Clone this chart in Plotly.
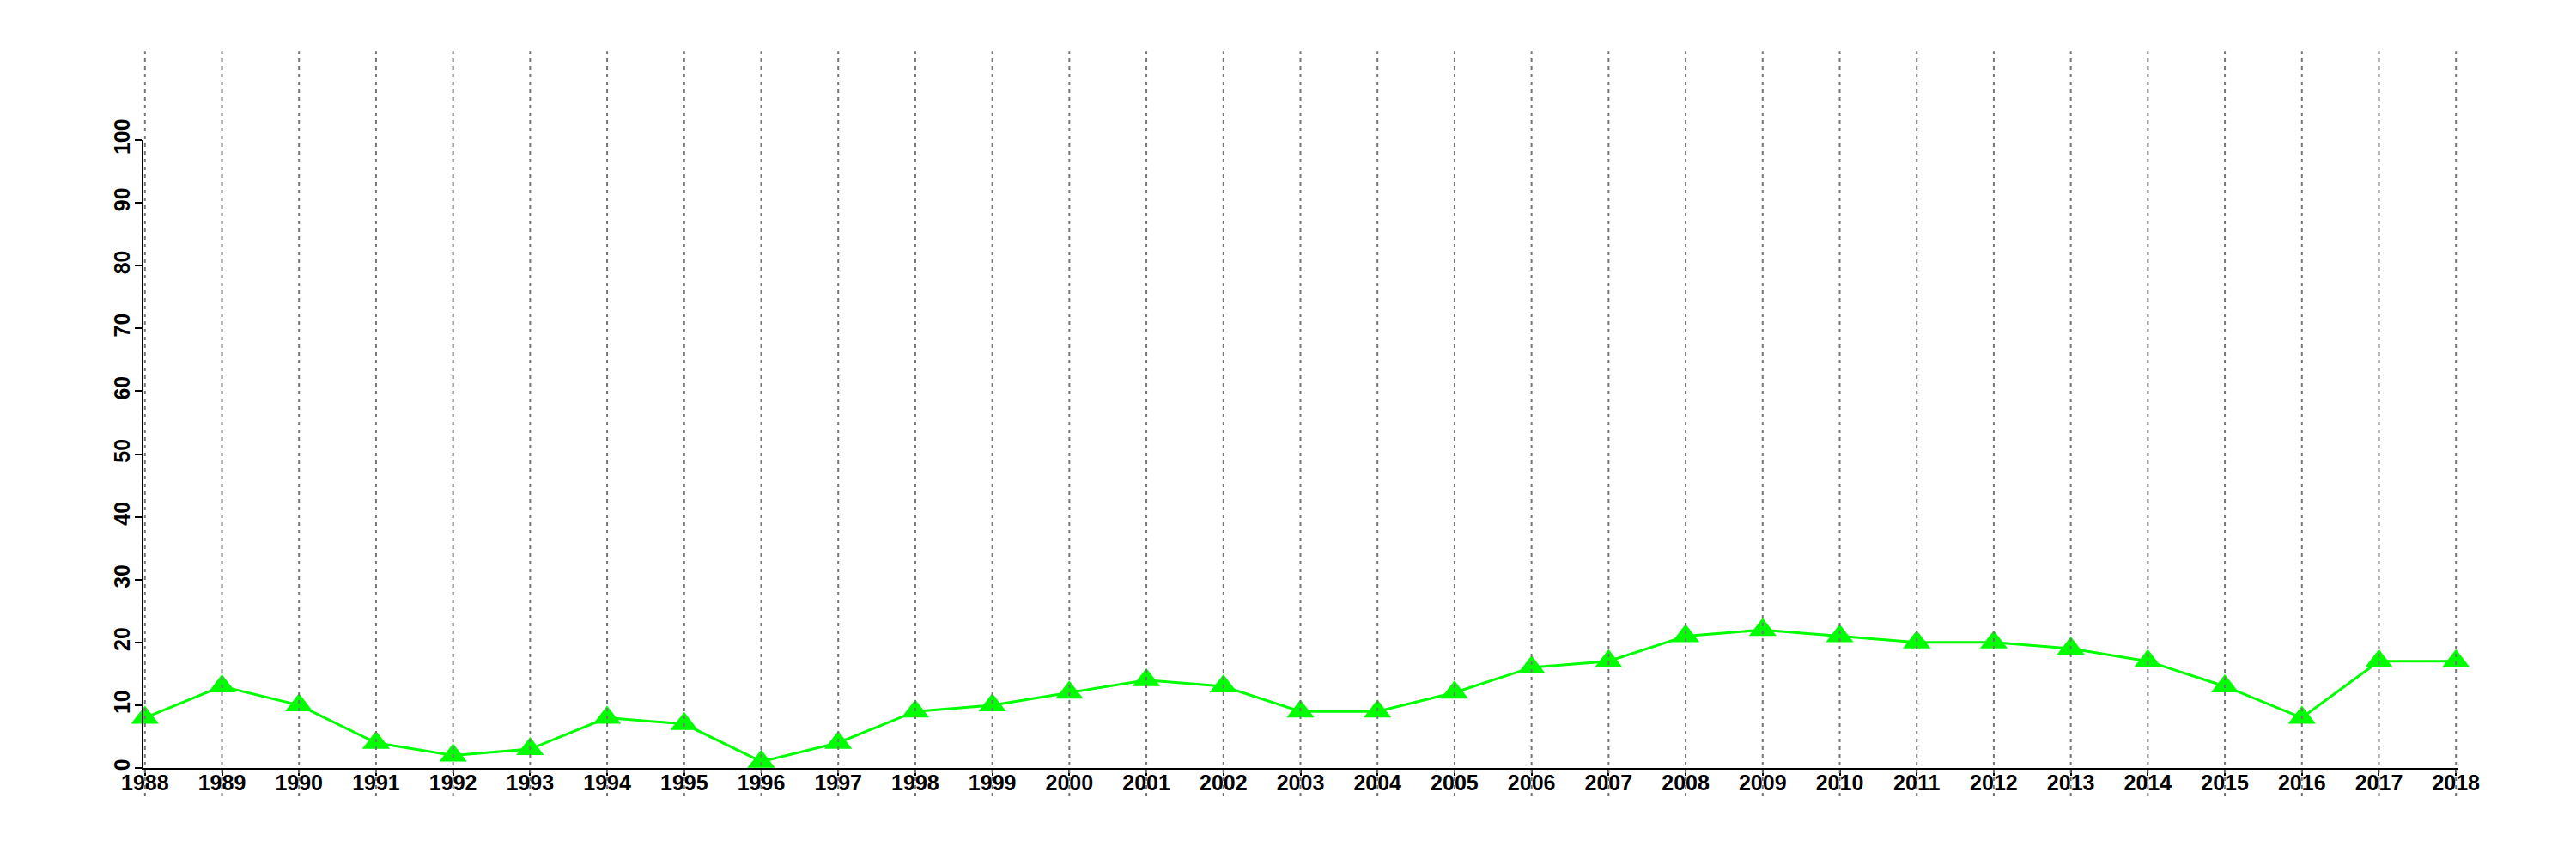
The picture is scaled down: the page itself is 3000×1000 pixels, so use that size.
import plotly.graph_objects as go

years = list(range(1988, 2019))
values = [8, 13, 10, 4, 2, 3, 8, 7, 1, 4, 9, 10, 12, 14, 13, 9, 9, 12, 16, 17,
          21, 22, 21, 20, 20, 19, 17, 13, 8, 17, 17]
y_ticks = [0, 10, 20, 30, 40, 50, 60, 70, 80, 90, 100]

fig = go.Figure()
fig.add_trace(go.Scatter(
    x=years, y=values, mode="lines+markers",
    line=dict(color="#00FF00", width=3),
    marker=dict(symbol="triangle-up", size=28, color="#00FF00"),
    cliponaxis=False, showlegend=False,
))

for yr in years:
    fig.add_shape(type="line", xref="x", yref="paper", x0=yr, x1=yr,
                  y0=-0.045, y1=1.142, layer="above",
                  line=dict(color="#777777", width=2, dash="4px,5px"))

font = dict(family="Liberation Sans, Arial, sans-serif", size=25, color="black", weight="bold")
fig.update_layout(
    width=3000, height=1000,
    margin=dict(l=159, r=146, t=155, b=114, autoexpand=False),
    paper_bgcolor="white", plot_bgcolor="white",
    xaxis=dict(range=[1987.98, 2018.02], tickmode="array", tickvals=years,
               ticktext=[str(y) for y in years], showgrid=False, zeroline=False,
               showline=True, linecolor="black", linewidth=2, automargin=False,
               ticks="outside", ticklen=7, tickwidth=2, tickcolor="black",
               tickfont=font, tickangle=0, ticklabelstandoff=-13),
    yaxis=dict(range=[0, 100], tickmode="array", tickvals=y_ticks,
               ticktext=[str(v) for v in y_ticks], showgrid=False, zeroline=False,
               showline=True, linecolor="black", linewidth=2, automargin=False,
               ticks="outside", ticklen=8, tickwidth=2, tickcolor="black",
               tickfont=font, tickangle=-90, ticklabelstandoff=-4),
)

fig.write_html("out.html")
